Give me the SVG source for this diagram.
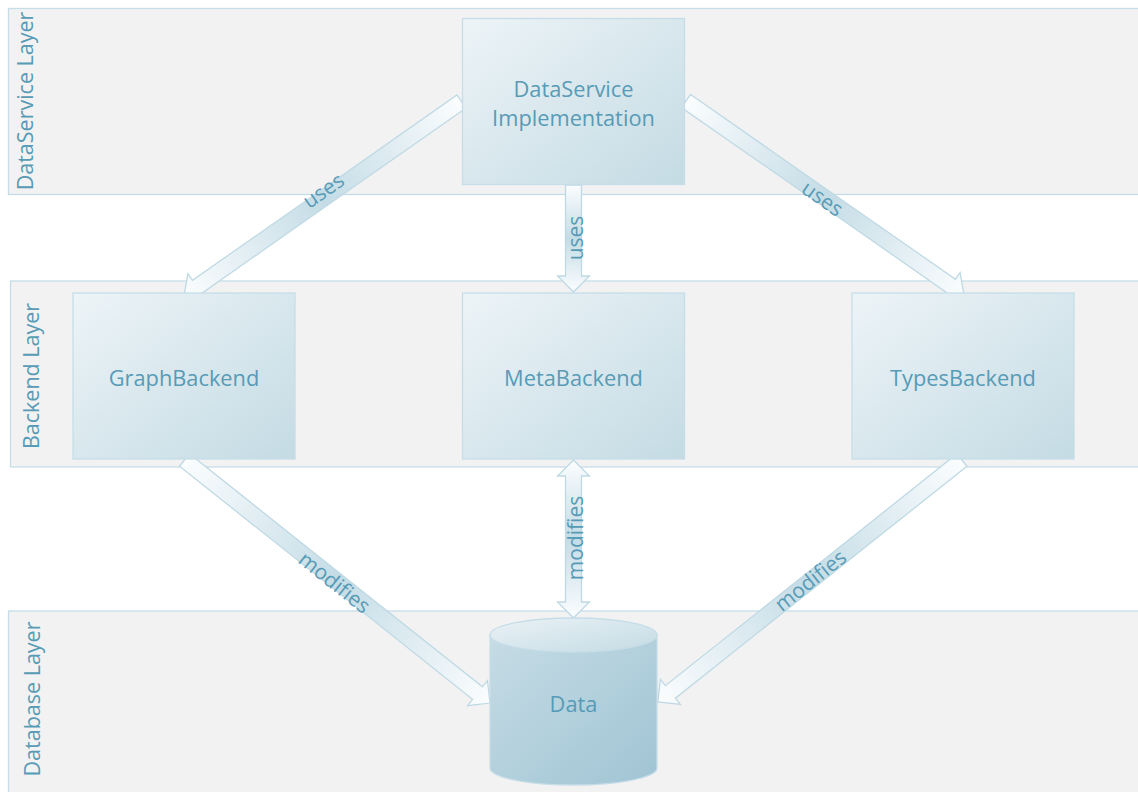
<svg xmlns="http://www.w3.org/2000/svg" width="1138" height="792" viewBox="0 0 1138 792">
  <defs>
    <linearGradient id="boxFill" x1="0" y1="0" x2="1" y2="1">
      <stop offset="0" stop-color="#edf4f7"/>
      <stop offset="1" stop-color="#c4dbe4"/>
    </linearGradient>
    <linearGradient id="cylBody" x1="0" y1="0" x2="1" y2="1">
      <stop offset="0" stop-color="#c6dce5"/>
      <stop offset="1" stop-color="#a0c4d4"/>
    </linearGradient>
    <linearGradient id="cylTop" x1="0" y1="0" x2="1" y2="1">
      <stop offset="0" stop-color="#eaf2f6"/>
      <stop offset="1" stop-color="#c4dbe4"/>
    </linearGradient>
    <linearGradient id="arrowFill" x1="0" y1="0" x2="1" y2="0">
      <stop offset="0" stop-color="#fbfdfe"/>
      <stop offset="0.5" stop-color="#c4dce6"/>
      <stop offset="1" stop-color="#fbfdfe"/>
    </linearGradient>
  </defs>
  <style>
    .band { fill: #f2f2f2; stroke: #c6dde8; stroke-width: 1.3; }
    .box { fill: url(#boxFill); stroke: #c6dde8; stroke-width: 1.3; }
    .arrow { fill: url(#arrowFill); stroke: #bfd9e4; stroke-width: 1.3; stroke-linejoin: miter; }
    .txt { font-family: "Open Sans", "Noto Sans", sans-serif; fill: #579bb6; text-anchor: middle; dominant-baseline: central; }
    .node { font-size: 21.8px; }
    .layer { font-size: 21.5px; }
    .lbl { font-size: 21px; }
  </style>

  <!-- layer bands -->
  <g id="layer-dataservice">
    <rect class="band" x="8.5" y="8.5" width="1140" height="186"/>
    <text class="txt layer" transform="translate(24 101) rotate(-90)">DataService Layer</text>
  </g>
  <g id="layer-backend">
    <rect class="band" x="10.5" y="281" width="1140" height="186"/>
    <text class="txt layer" transform="translate(30 376) rotate(-90)">Backend Layer</text>
  </g>
  <g id="layer-database">
    <rect class="band" x="8.5" y="611" width="1140" height="200"/>
    <text class="txt layer" transform="translate(31 699) rotate(-90)">Database Layer</text>
  </g>

  <!-- connectors: block arrows drawn along +x, then placed -->
  <g id="connectors">
    <!-- DataService -> GraphBackend -->
    <g transform="translate(461.5 101.5) rotate(144.97)">
      <path class="arrow" d="M0,-8 H322.9 V-16 L338.9,0 L322.9,16 V8 H0 Z"/>
    </g>
    <!-- DataService -> MetaBackend -->
    <g transform="translate(573.5 185) rotate(90)">
      <path class="arrow" d="M0,-8 H91 V-16 L107,0 L91,16 V8 H0 Z"/>
    </g>
    <!-- DataService -> TypesBackend -->
    <g transform="translate(686 101) rotate(34.9)">
      <path class="arrow" d="M0,-8 H323 V-16 L339,0 L323,16 V8 H0 Z"/>
    </g>
    <!-- GraphBackend -> Data -->
    <g transform="translate(184.5 460) rotate(38.5)">
      <path class="arrow" d="M0,-8 H374.4 V-16 L390.4,0 L374.4,16 V8 H0 Z"/>
    </g>
    <!-- MetaBackend <-> Data -->
    <g transform="translate(573.5 460) rotate(90)">
      <path class="arrow" d="M0,0 L16,-16 V-8 H142 V-16 L158,0 L142,16 V8 H16 V16 Z"/>
    </g>
    <!-- TypesBackend -> Data -->
    <g transform="translate(962 460) rotate(141.5)">
      <path class="arrow" d="M0,-8 H372.6 V-16 L388.6,0 L372.6,16 V8 H0 Z"/>
    </g>

    <text class="txt lbl" transform="translate(323 190) rotate(-35)">uses</text>
    <text class="txt lbl" transform="translate(575 238) rotate(-90)">uses</text>
    <text class="txt lbl" transform="translate(823 198) rotate(35)">uses</text>
    <text class="txt lbl" transform="translate(335 582) rotate(38.5)">modifies</text>
    <text class="txt lbl" transform="translate(575 538) rotate(-90)">modifies</text>
    <text class="txt lbl" transform="translate(810 580) rotate(-38.5)">modifies</text>
  </g>

  <!-- nodes -->
  <g id="node-dataservice">
    <rect class="box" x="462.5" y="18.5" width="222" height="166"/>
    <text class="txt node" x="573.5" y="88">DataService</text>
    <text class="txt node" x="573.5" y="117">Implementation</text>
  </g>
  <g id="node-graphbackend">
    <rect class="box" x="73" y="293" width="222" height="166"/>
    <text class="txt node" x="184" y="377">GraphBackend</text>
  </g>
  <g id="node-metabackend">
    <rect class="box" x="462.5" y="293" width="222" height="166"/>
    <text class="txt node" x="573.5" y="377">MetaBackend</text>
  </g>
  <g id="node-typesbackend">
    <rect class="box" x="852" y="293" width="222" height="166"/>
    <text class="txt node" x="963" y="377">TypesBackend</text>
  </g>
  <g id="node-data">
    <path class="box" style="fill:url(#cylBody)" d="M490,635 V768 A83.5,17 0 0 0 657,768 V635 Z"/>
    <ellipse class="box" style="fill:url(#cylTop)" cx="573.5" cy="635" rx="83.5" ry="17"/>
    <text class="txt node" x="573.5" y="703">Data</text>
  </g>
</svg>
